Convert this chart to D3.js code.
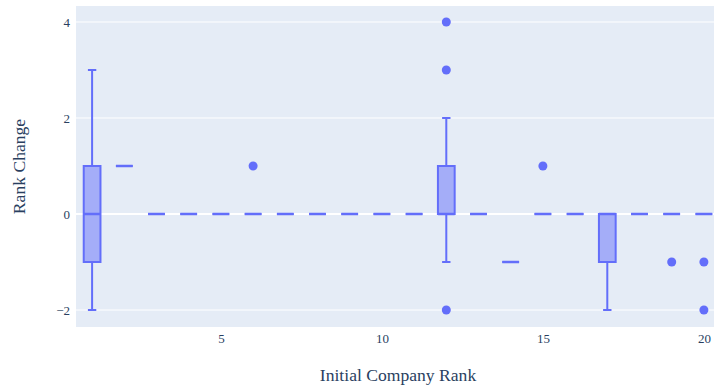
<!DOCTYPE html>
<html>
<head>
<meta charset="utf-8">
<script src="https://cdn.jsdelivr.net/npm/d3@7"></script>
<style>
  html, body { margin: 0; padding: 0; background: #fff; }
  svg { display: block; }
</style>
</head>
<body>
<div id="chart"></div>
<script>
// Rank change distribution per initial company rank (box statistics)
const ranks     = [1, 2, 3, 4, 5, 6, 7, 8, 9, 10, 11, 12, 13, 14, 15, 16, 17, 18, 19, 20];
const lowerFence = [-2, 1, 0, 0, 0, 0, 0, 0, 0, 0, 0, -1, 0, -1, 0, 0, -2, 0, 0, 0];
const q1         = [-1, 1, 0, 0, 0, 0, 0, 0, 0, 0, 0, 0, 0, -1, 0, 0, -1, 0, 0, 0];
const medians    = [0, 1, 0, 0, 0, 0, 0, 0, 0, 0, 0, 0, 0, -1, 0, 0, 0, 0, 0, 0];
const q3         = [1, 1, 0, 0, 0, 0, 0, 0, 0, 0, 0, 1, 0, -1, 0, 0, 0, 0, 0, 0];
const upperFence = [3, 1, 0, 0, 0, 0, 0, 0, 0, 0, 0, 2, 0, -1, 0, 0, 0, 0, 0, 0];
const outlierRanks  = [6, 12, 12, 12, 15, 19, 20, 20];
const outlierValues = [1, 4, 3, -2, 1, -1, -1, -2];

const xTicks = [5, 10, 15, 20];
const yTicks = [-2, 0, 2, 4];

const W = 714, H = 390;
const plot = { left: 76, right: 720, top: 6, bottom: 327 };
const color = "#636efa";
const fontFamily = "'Liberation Serif', 'Times New Roman', serif";

const x = d3.scaleLinear().domain([0.5, 20.5]).range([plot.left, plot.right]);
const y = d3.scaleLinear().domain([-2.354, 4.333]).range([plot.bottom, plot.top]);

const svg = d3.select("#chart").append("svg")
  .attr("width", W).attr("height", H);

svg.append("rect")
  .attr("x", plot.left).attr("y", plot.top)
  .attr("width", plot.right - plot.left).attr("height", plot.bottom - plot.top)
  .attr("fill", "#E5ECF6");

// Grid lines
svg.append("g").selectAll("line").data(yTicks.filter(d => d !== 0)).join("line")
  .attr("x1", plot.left).attr("x2", plot.right)
  .attr("y1", d => y(d)).attr("y2", d => y(d))
  .attr("stroke", "#fff").attr("stroke-width", 1);

svg.append("line")
  .attr("x1", plot.left).attr("x2", plot.right)
  .attr("y1", y(0)).attr("y2", y(0))
  .attr("stroke", "#fff").attr("stroke-width", 2);

// Axes
const xAxis = svg.append("g")
  .attr("transform", `translate(0,${plot.bottom})`)
  .call(d3.axisBottom(x).tickValues(xTicks).tickSize(0).tickPadding(7));
const yAxis = svg.append("g")
  .attr("transform", `translate(${plot.left},0)`)
  .call(d3.axisLeft(y).tickValues(yTicks).tickSize(0).tickPadding(6)
    .tickFormat(d => d < 0 ? "\u2212" + Math.abs(d) : String(d)));

[xAxis, yAxis].forEach(g => {
  g.select(".domain").remove();
  g.selectAll("text")
    .attr("fill", "#2a3f5f")
    .style("font-family", fontFamily)
    .style("font-size", "13px");
});

// Box plots
const data = ranks.map((r, i) => ({
  rank: r, lo: lowerFence[i], q1: q1[i], med: medians[i], q3: q3[i], hi: upperFence[i]
}));
const boxW = 0.52;
const halfPx = (x(boxW) - x(0)) / 2;

const boxes = svg.append("g");
const g = boxes.selectAll("g").data(data).join("g");

// whiskers
g.append("path")
  .attr("d", d => {
    const cx = x(d.rank);
    let p = "";
    if (d.hi > d.q3) p += `M${cx},${y(d.q3)}V${y(d.hi)}M${cx - halfPx / 2},${y(d.hi)}H${cx + halfPx / 2}`;
    if (d.lo < d.q1) p += `M${cx},${y(d.q1)}V${y(d.lo)}M${cx - halfPx / 2},${y(d.lo)}H${cx + halfPx / 2}`;
    return p || null;
  })
  .attr("fill", "none").attr("stroke", color).attr("stroke-width", 2);

// box body
g.append("path")
  .attr("d", d => {
    const cx = x(d.rank);
    return `M${cx - halfPx},${y(d.q1)}H${cx + halfPx}V${y(d.q3)}H${cx - halfPx}Z`;
  })
  .attr("fill", "rgba(99,110,250,0.5)").attr("stroke", color).attr("stroke-width", 2);

// median
g.append("path")
  .attr("d", d => `M${x(d.rank) - halfPx},${y(d.med)}H${x(d.rank) + halfPx}`)
  .attr("stroke", color).attr("stroke-width", 2.5);

// outliers
svg.append("g").selectAll("circle").data(outlierRanks.map((r, i) => ({ r, v: outlierValues[i] })))
  .join("circle")
  .attr("cx", d => x(d.r)).attr("cy", d => y(d.v)).attr("r", 4.5)
  .attr("fill", color);

// Axis titles
svg.append("text")
  .attr("x", (plot.left + plot.right) / 2).attr("y", 381)
  .attr("text-anchor", "middle")
  .attr("fill", "#2a3f5f")
  .style("font-family", fontFamily).style("font-size", "17.6px")
  .text("Initial Company Rank");

svg.append("text")
  .attr("transform", `translate(25,${(plot.top + plot.bottom) / 2}) rotate(-90)`)
  .attr("text-anchor", "middle")
  .attr("fill", "#2a3f5f")
  .style("font-family", fontFamily).style("font-size", "17.6px")
  .text("Rank Change");
</script>
</body>
</html>
